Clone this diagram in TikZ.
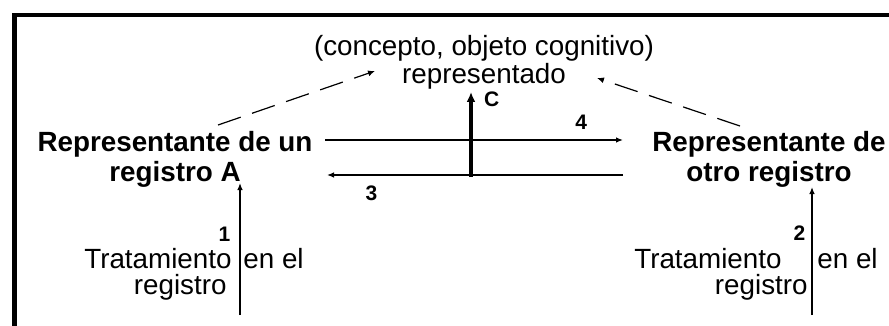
\documentclass[tikz,border=0pt]{standalone}
\usepackage{fontspec}
\setmainfont{Liberation Sans}
\usetikzlibrary{
    arrows.meta,
    positioning
}

\begin{document}
\begin{tikzpicture}[x=0.5pt, y=-0.5pt, every node/.style={inner sep=0pt, font=\fontsize{13.9}{12.5}\selectfont},
    repbox/.style={align=center, anchor=north, font=\bfseries\fontsize{13.9}{15}\selectfont},
    lbl/.style={font=\bfseries\fontsize{10.5}{11}\selectfont},
    arr/.style={line width=0.65pt, -{Latex[length=3.5pt, width=2.8pt]}},
    dsh/.style={line width=0.6pt, dash pattern=on 12pt off 6pt, -{Latex[length=3.5pt, width=3pt]}}]
    \useasboundingbox (0,0) rectangle (889,326);
    % frame
    \draw[line width=2.3pt] (14.5,326) -- (14.5,15) -- (889,15);

    \node (obj) [align=center, anchor=north] at (484,35) {(concepto, objeto cognitivo)\\representado};
    \node (repA) [repbox] at (175,131) {Representante de un\\registro A};
    \node (repB) [repbox] at (769,131) {Representante de\\otro registro};

    \node (trA) [anchor=base east] at (232,268) {Tratamiento};
    \node (enA) [anchor=base west] at (243,268) {en el};
    \node (rgA) [anchor=base east] at (227,294) {registro};
    \node (trB) [anchor=base east] at (782,268) {Tratamiento};
    \node (enB) [anchor=base west] at (817,268) {en el};
    \node (rgB) [anchor=base east] at (808,294) {registro};

    % arrow ends
    \coordinate (pieA) at (240,315);
    \coordinate (topA) at (240,183);
    \coordinate (pieB) at (812,315);
    \coordinate (topB) at (812,187);
    \coordinate (izq4) at (325,140);
    \coordinate (der4) at (623,140);
    \coordinate (der3) at (623,175);
    \coordinate (izq3) at (327,175);
    \coordinate (pieC) at (471,177);
    \coordinate (topC) at (471,92);
    \coordinate (dA) at (218,125);
    \coordinate (dObjA) at (375,71);
    \coordinate (dB) at (740,126);
    \coordinate (dObjB) at (597,78);

    \draw[arr] (pieA) -- node[lbl, left=4.5pt, pos=.61] (n1) {1} (topA);
    \draw[arr] (pieB) -- node[lbl, left=3pt, pos=.64] (n2) {2} (topB);
    \draw[arr] (izq4) -- node[lbl, above=5pt, pos=.86] (n4) {4} (der4);
    \draw[arr] (der3) -- node[lbl, below=5pt, pos=.85] (n3) {3} (izq3);
    \draw[line width=2pt, -{Latex[length=5pt, width=4.5pt]}] (pieC) -- node[lbl, right=5.5pt, pos=.92] (nC) {C} (topC);
    \draw[dsh] (dA) -- (dObjA);
    \draw[dsh] (dB) -- (dObjB);
\end{tikzpicture}
\end{document}
